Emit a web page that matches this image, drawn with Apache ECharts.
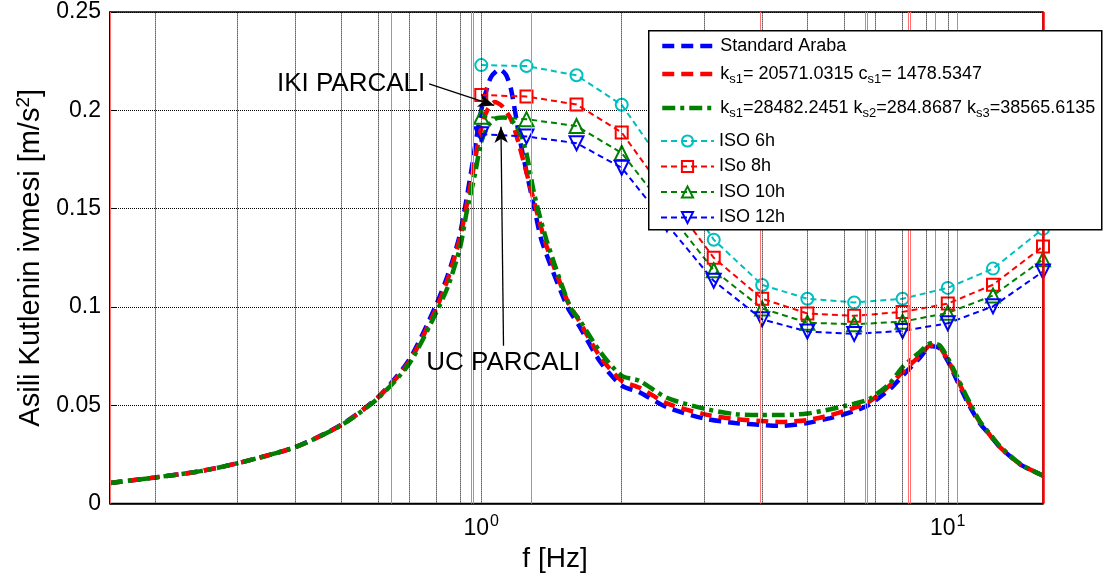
<!DOCTYPE html>
<html>
<head>
<meta charset="utf-8">
<script src="https://cdn.jsdelivr.net/npm/echarts@6/dist/echarts.min.js"></script>
<style>html,body{margin:0;padding:0;background:#fff}#c{width:1103px;height:578px}</style>
</head>
<body>
<div id="c"></div>
<script>
// ---- data ----
const stdFreq = [0.16,0.2,0.25,0.3,0.4,0.5,0.6,0.7,0.8,0.85,0.9,0.95,0.975,1.0,1.025,1.05,1.095,1.13,1.16,1.21,1.3,1.35,1.53,1.62,1.8,2.0,2.18,2.5,3.0,3.5,4.0,4.4,5.0,5.6,6.3,6.8,7.5,8.0,8.7,9.2,9.6,10.0,10.4,11.0,11.7,12.3,12.9,14.3,16];
const stdVal  = [0.0105,0.0133,0.0165,0.0205,0.0288,0.040,0.054,0.073,0.101,0.117,0.137,0.168,0.185,0.200,0.210,0.217,0.2208,0.218,0.210,0.185,0.150,0.133,0.100,0.0905,0.072,0.060,0.0567,0.049,0.0433,0.041,0.040,0.0395,0.041,0.0435,0.047,0.0505,0.058,0.065,0.074,0.080,0.079,0.0725,0.064,0.052,0.041,0.035,0.029,0.020,0.0142];

const twoFreq = [0.16,0.2,0.25,0.3,0.4,0.5,0.6,0.7,0.8,0.85,0.9,0.95,0.975,1.0,1.03,1.07,1.11,1.16,1.21,1.3,1.38,1.53,1.62,1.8,2.0,2.18,2.5,3.0,3.5,4.0,4.4,5.0,5.6,6.3,6.8,7.5,8.0,8.7,9.2,9.6,10.0,10.4,11.0,11.7,12.3,12.9,14.3,16];
const twoVal  = [0.0105,0.0133,0.0165,0.0205,0.0288,0.0398,0.0538,0.072,0.099,0.115,0.135,0.163,0.178,0.191,0.200,0.2042,0.202,0.195,0.181,0.153,0.131,0.103,0.093,0.0745,0.0625,0.059,0.051,0.0455,0.043,0.042,0.0415,0.0425,0.045,0.0487,0.052,0.060,0.067,0.075,0.0805,0.0795,0.073,0.065,0.053,0.0417,0.035,0.029,0.020,0.0142];

const threeFreq = [0.16,0.2,0.25,0.3,0.4,0.5,0.6,0.7,0.8,0.85,0.9,0.93,0.97,1.0,1.04,1.08,1.12,1.16,1.21,1.25,1.3,1.38,1.55,1.62,1.8,2.0,2.18,2.5,3.0,3.5,4.0,4.4,5.0,5.6,6.3,6.8,7.5,8.0,8.7,9.2,9.6,10.0,10.4,11.0,11.7,12.3,12.9,14.3,16];
const threeVal  = [0.0105,0.0133,0.0165,0.0205,0.0288,0.0397,0.0535,0.071,0.097,0.111,0.130,0.148,0.168,0.184,0.193,0.1960,0.1963,0.195,0.189,0.178,0.157,0.134,0.100,0.0938,0.077,0.065,0.0625,0.0538,0.0483,0.0455,0.045,0.045,0.0458,0.048,0.0508,0.0533,0.061,0.0695,0.077,0.0815,0.0805,0.074,0.066,0.054,0.042,0.0355,0.0295,0.0202,0.0142];

const isoFreq = [1,1.25,1.6,2,2.5,3.15,4,5,6.3,8,10,12.5,16];
const iso6h   = [0.223,0.2225,0.2178,0.2028,0.170,0.1342,0.1112,0.1042,0.1023,0.1042,0.1097,0.1195,0.1397];
const iso8h   = [0.2078,0.207,0.203,0.1887,0.157,0.125,0.1042,0.0967,0.0955,0.0975,0.1017,0.1113,0.1308];
const iso10h  = [0.1967,0.1955,0.192,0.1783,0.149,0.1187,0.0992,0.092,0.0912,0.0925,0.097,0.1058,0.1242];
const iso12h  = [0.1878,0.1867,0.1833,0.1708,0.142,0.1133,0.0937,0.0875,0.0863,0.0878,0.0917,0.1003,0.118];

const gridFreqs = [0.2,0.3,0.4,0.5,0.6,0.7,0.8,0.9,1,2,3,4,5,6,7,8,9,10];
const redFreqs  = [0.16,0.64,0.95,0.958,1.282,3.963,6.67,6.725,8.24,8.30,9.38,10.49];
const edgeRedFreq = 16;
const yTicks = [0,0.05,0.1,0.15,0.2,0.25];

const seriesNames = ['Standard Araba','k_s1= 20571.0315 c_s1= 1478.5347','k_s1=28482.2451 k_s2=284.8687 k_s3=38565.6135','ISO 6h','ISo 8h','ISO 10h','ISO 12h'];
const annoArrows = [ [[0.773,0.2134],[1.066,0.2025]], [[1.116,0.0803],[1.102,0.1916]] ];
const annoTexts = [ {name:'IKI PARCALI', coord:[0.526,0.2134]}, {name:'UC PARCALI', coord:[1.115,0.0718]} ];

const FONT = 'Liberation Sans, Arial, sans-serif';
const pair = (xs, ys) => xs.map((x, i) => [x, ys[i]]);

function legendFmt(name) {
  return name.replace(/_(s\d)/g, '{sub|$1}');
}

const chart = echarts.init(document.getElementById('c'), null, {renderer:'canvas'});

const mainLine = (name, xs, ys, color, dash) => ({
  name, type:'line', data: pair(xs, ys), showSymbol:false, symbol:'circle', symbolSize:0, smooth:0.25,
  lineStyle:{color, width:4.5, type:dash}, itemStyle:{color:'rgba(0,0,0,0)', borderWidth:0}, z:3
});
const isoLine = (name, ys, color, symbol, rotate, size) => ({
  name, type:'line', data: pair(isoFreq, ys), symbol, symbolSize:size, symbolRotate:rotate,
  lineStyle:{color, width:2, type:[6,4]},
  itemStyle:{color:'rgba(255,255,255,0)', borderColor:color, borderWidth:2},
  z:3
});

const legendBase = {
  orient:'vertical', left:660, z:20, padding:0,
  itemWidth:53, itemHeight:14, itemGap:7.5,
  textStyle:{fontFamily:FONT, fontSize:18, color:'#000',
    rich:{sub:{fontFamily:FONT, fontSize:13, color:'#000', padding:[10,0,0,0]}}},
  formatter: legendFmt
};
const mkLegend = (top, names) => Object.assign({}, legendBase, {
  top, data: names.map(n => seriesNames.indexOf(n) < 3 ? {name:n, lineStyle:{width:4.5}} : {name:n})
});

const option = {
  animation:false,
  backgroundColor:'#fff',
  grid:{left:110, right:60, top:12, bottom:68, show:true, borderColor:'#000', borderWidth:1.5, backgroundColor:'transparent'},
  graphic:[{ type:'rect', left:648, top:30, z:15, silent:true,
    shape:{width:453, height:199}, style:{fill:'#fff', stroke:'#000', lineWidth:1.5} }],
  xAxis:{
    type:'log', logBase:10, min:0.16, max:16,
    name:'f [Hz]', nameLocation:'middle', nameGap:32,
    nameTextStyle:{fontFamily:FONT, fontSize:28, color:'#000', padding:[0,43,0,0]},
    axisLine:{lineStyle:{color:'#000', width:1.5}},
    axisTick:{show:false},
    splitLine:{show:false},
    axisLabel:{
      fontFamily:FONT, fontSize:23, color:'#000', margin:10,
      formatter:function(v){
        const e = Math.log10(v);
        if (Math.abs(e - Math.round(e)) < 1e-6) return '10{sup|' + Math.round(e) + '}';
        return '';
      },
      rich:{sup:{fontFamily:FONT, fontSize:16, color:'#000', padding:[0,0,14,1]}}
    }
  },
  yAxis:{
    type:'value', min:0, max:0.25, interval:0.05,
    name:'{a|Asili Kutlenin ivmesi [m/s}{sup|2}{a|]}', nameLocation:'middle', nameGap:51, nameRotate:90,
    nameTextStyle:{rich:{a:{fontFamily:FONT, fontSize:29, color:'#000'}, sup:{fontFamily:FONT, fontSize:19, color:'#000', padding:[0,0,14,0]}}},
    axisLine:{lineStyle:{color:'#000', width:1.5}},
    axisTick:{inside:true, length:6, lineStyle:{color:'#000'}},
    axisLabel:{fontFamily:FONT, fontSize:23, color:'#000', margin:9,
      formatter:function(v){ return yTicks.indexOf(+v.toFixed(2)) >= 0 ? String(+v.toFixed(2)) : ''; }},
    splitLine:{show:true, lineStyle:{color:'#000', type:[1,1], width:1}}
  },
  legend:[
    mkLegend(37, [seriesNames[0]]),
    mkLegend(65, [seriesNames[1]]),
    mkLegend(99, [seriesNames[2]]),
    mkLegend(132, seriesNames.slice(3))
  ],
  series:[
    { name:'grid', type:'line', data:[], silent:true, z:1,
      markLine:{ silent:true, symbol:['none','none'], label:{show:false}, animation:false,
        lineStyle:{color:'#000', type:[1,1], width:1},
        data: gridFreqs.map(f => ({xAxis:f})) } },
    { name:'red', type:'line', data:[], silent:true, z:2,
      markLine:{ silent:true, symbol:['none','none'], label:{show:false}, animation:false,
        lineStyle:{color:'#ff7070', type:'solid', width:1},
        data: redFreqs.map(f => ({xAxis:f})).concat([{xAxis:edgeRedFreq, lineStyle:{color:'#ff0000', type:'solid', width:2.5}}]) } },
    mainLine(seriesNames[0], stdFreq, stdVal, '#0000ff', [12,7]),
    mainLine(seriesNames[1], twoFreq, twoVal, '#ff0000', [12,7]),
    mainLine(seriesNames[2], threeFreq, threeVal, '#008000', [13,5,4,5]),
    isoLine(seriesNames[3], iso6h, '#00bfbf', 'circle', 0, 12),
    isoLine(seriesNames[4], iso8h, '#ff0000', 'rect', 0, 12),
    isoLine(seriesNames[5], iso10h, '#008000', 'triangle', 0, 14),
    isoLine(seriesNames[6], iso12h, '#0000ff', 'triangle', 180, 14),
    { name:'anno', type:'line', data:[], silent:true, z:6,
      markLine:{ silent:true, symbol:['none','arrow'], symbolSize:[10,16], label:{show:false}, animation:false,
        lineStyle:{color:'#000', type:'solid', width:1.3},
        itemStyle:{color:'#000'},
        data: annoArrows.map(a => [{coord:a[0]}, {coord:a[1]}]) },
      markPoint:{ silent:true, symbol:'rect', symbolSize:1, itemStyle:{color:'rgba(0,0,0,0)'}, animation:false,
        label:{show:true, position:'inside', formatter:'{b}', fontFamily:FONT, fontSize:26, color:'#000'},
        data: annoTexts.map(t => ({name:t.name, coord:t.coord})) } }
  ]
};
chart.setOption(option);
</script>
</body>
</html>
